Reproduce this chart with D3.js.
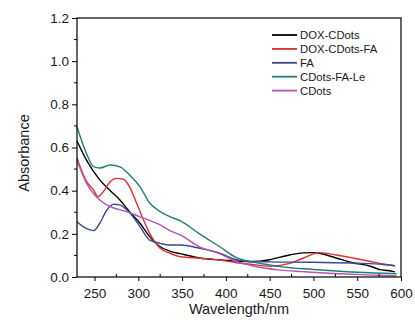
<!DOCTYPE html>
<html>
<head>
<meta charset="utf-8">
<script src="https://cdn.jsdelivr.net/npm/d3@7"></script>
<style>
body { margin: 0; background: #fff; }
text { font-family: "Liberation Sans", Arial, sans-serif; fill: #1a1a1a; }
</style>
</head>
<body>
<script>
let width = 415;
let height = 324;

// series: [wavelength nm, absorbance]
let doxCDots = [[230,0.63],[241,0.54],[256,0.45],[268,0.40],[279,0.357],[290,0.303],[302,0.249],[313,0.187],[325,0.14],[336,0.12],[348,0.108],[370,0.088],[393,0.079],[412,0.074],[428,0.071],[450,0.08],[462,0.092],[473,0.102],[488,0.112],[500,0.113],[507,0.11],[526,0.088],[545,0.066],[565,0.05],[576,0.034],[585,0.03],[593,0.024]];
let doxCDotsFA = [[230,0.55],[241,0.442],[249,0.403],[254,0.372],[260,0.395],[268,0.442],[275,0.457],[283,0.453],[290,0.418],[298,0.343],[306,0.264],[313,0.202],[325,0.133],[336,0.11],[348,0.094],[370,0.087],[393,0.079],[412,0.066],[430,0.058],[450,0.05],[473,0.063],[488,0.087],[507,0.113],[526,0.102],[545,0.088],[565,0.072],[576,0.063],[593,0.052]];
let fa = [[230,0.256],[237,0.233],[245,0.218],[249,0.215],[256,0.249],[264,0.31],[272,0.337],[279,0.334],[287,0.31],[294,0.279],[302,0.233],[313,0.171],[325,0.156],[336,0.148],[348,0.148],[370,0.133],[393,0.11],[412,0.08],[430,0.072],[450,0.07],[500,0.068],[550,0.064],[580,0.058],[593,0.052]];
let cdotsFALe = [[230,0.696],[240,0.58],[249,0.511],[256,0.505],[268,0.519],[279,0.51],[290,0.473],[302,0.418],[313,0.343],[325,0.303],[336,0.28],[348,0.26],[370,0.2],[393,0.14],[412,0.09],[428,0.071],[450,0.056],[462,0.048],[500,0.035],[550,0.022],[595,0.015]];
let cdots = [[230,0.54],[241,0.434],[256,0.357],[268,0.326],[287,0.303],[302,0.279],[325,0.241],[336,0.215],[348,0.195],[370,0.14],[393,0.108],[412,0.072],[430,0.052],[462,0.032],[488,0.025],[530,0.015],[560,0.01],[595,0.005]];

let seriesNames = ["DOX-CDots", "DOX-CDots-FA", "FA", "CDots-FA-Le", "CDots"];
let seriesData = [doxCDots, doxCDotsFA, fa, cdotsFALe, cdots];
let seriesColors = ["#000000", "#e0302e", "#3b4a8e", "#1f7f78", "#b254b4"];

let xTicks = [250, 300, 350, 400, 450, 500, 550, 600];
let yTicks = [0.0, 0.2, 0.4, 0.6, 0.8, 1.0, 1.2];

let margin = {left: 77, right: 14, top: 18, bottom: 47};

let svg = d3.select("body")
    .append("svg")
    .attr("width", width)
    .attr("height", height);

let x = d3.scaleLinear().domain([230, 600]).range([margin.left, width - margin.right]);
let y = d3.scaleLinear().domain([0, 1.2]).range([height - margin.bottom, margin.top]);

// curves
let line = d3.line()
    .x(function(d) { return x(d[0]); })
    .y(function(d) { return y(d[1]); })
    .curve(d3.curveMonotoneX);

svg.append("g")
    .selectAll("path")
    .data(seriesData)
    .enter().append("path")
        .attr("d", line)
        .attr("fill", "none")
        .attr("stroke", function(d, i) { return seriesColors[i]; })
        .attr("stroke-width", 1.4);

// frame
svg.append("rect")
    .attr("x", x(230))
    .attr("y", y(1.2))
    .attr("width", x(600) - x(230))
    .attr("height", y(0) - y(1.2))
    .attr("fill", "none")
    .attr("stroke", "#000")
    .attr("stroke-width", 1.2);

// x axis: major ticks out, minor ticks in
let xAxis = svg.append("g").attr("transform", "translate(0," + y(0) + ")");
xAxis.call(d3.axisBottom(x).tickValues(xTicks).tickSize(4).tickFormat(d3.format("d")))
    .call(function(g) { g.select(".domain").remove(); });
xAxis.selectAll("text").attr("font-size", 13.5).attr("dy", "1.05em").attr("fill", "#1a1a1a")
    .style("font-family", "'Liberation Sans', Arial, sans-serif");
xAxis.selectAll("line").attr("stroke-width", 1);
xAxis.selectAll(".minor")
    .data(d3.range(275, 600, 50))
    .enter().append("line")
        .attr("class", "minor")
        .attr("x1", function(d) { return x(d); })
        .attr("x2", function(d) { return x(d); })
        .attr("y1", 0)
        .attr("y2", -3)
        .attr("stroke", "#000");

// y axis
let yAxis = svg.append("g").attr("transform", "translate(" + x(230) + ",0)");
yAxis.call(d3.axisLeft(y).tickValues(yTicks).tickSize(5).tickFormat(d3.format(".1f")))
    .call(function(g) { g.select(".domain").remove(); });
yAxis.selectAll("text").attr("font-size", 13.5).attr("fill", "#1a1a1a")
    .style("font-family", "'Liberation Sans', Arial, sans-serif");
yAxis.selectAll(".minor")
    .data([0.1, 0.3, 0.5, 0.7, 0.9, 1.1])
    .enter().append("line")
        .attr("class", "minor")
        .attr("x1", 0)
        .attr("x2", -3)
        .attr("y1", function(d) { return y(d); })
        .attr("y2", function(d) { return y(d); })
        .attr("stroke", "#000");

// axis titles
svg.append("text")
    .attr("x", (x(230) + x(600)) / 2)
    .attr("y", 314)
    .attr("text-anchor", "middle")
    .attr("font-size", 14.5)
    .text("Wavelength/nm");

svg.append("text")
    .attr("transform", "translate(29," + 153 + ") rotate(-90)")
    .attr("text-anchor", "middle")
    .attr("font-size", 14.5)
    .text("Absorbance");

// legend
let legend = svg.append("g").attr("transform", "translate(272,35)");
let legendItems = legend.selectAll("g")
    .data(seriesNames)
    .enter().append("g")
        .attr("transform", function(d, i) { return "translate(0," + (i * 13.9) + ")"; });
legendItems.append("line")
    .attr("x1", 0).attr("x2", 25)
    .attr("stroke", function(d, i) { return seriesColors[i]; })
    .attr("stroke-width", 1.8);
legendItems.append("text")
    .attr("x", 28)
    .attr("dy", "0.36em")
    .attr("font-size", 11.3)
    .text(function(d) { return d; });
</script>
</body>
</html>
